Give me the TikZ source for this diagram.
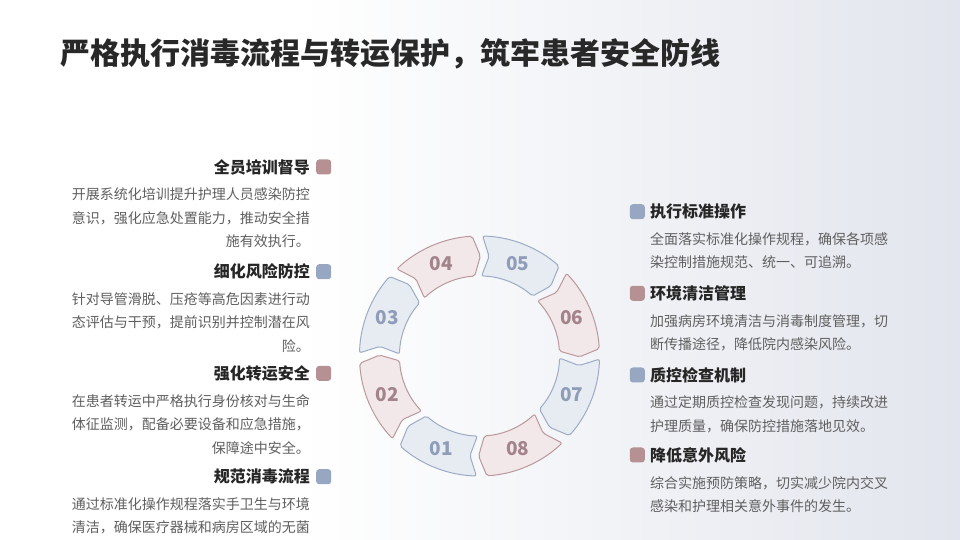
\documentclass[tikz,border=0pt]{standalone}
\usepackage{fontspec}
\setmainfont{Noto Sans CJK SC}
\definecolor{titlegray}{RGB}{40, 40, 40}
\definecolor{headgray}{RGB}{38, 38, 38}
\definecolor{bodygray}{RGB}{95, 95, 95}
\definecolor{bgtint}{RGB}{226, 229, 237}
\definecolor{rosefill}{RGB}{242, 231, 233}
\definecolor{roseline}{RGB}{185, 153, 156}
\definecolor{rosetext}{RGB}{163, 132, 138}
\definecolor{rosemark}{RGB}{181, 145, 147}
\definecolor{bluefill}{RGB}{231, 236, 243}
\definecolor{blueline}{RGB}{158, 171, 196}
\definecolor{bluetext}{RGB}{143, 157, 184}
\definecolor{bluemark}{RGB}{152, 167, 193}
\usetikzlibrary{positioning}

\begin{document}
\begin{tikzpicture}[
  x=1pt, y=1pt,
  title/.style={anchor=west, inner sep=0pt, text=titlegray,
                font=\fontsize{30}{36}\selectfont\bfseries},
  head/.style={inner sep=0pt, text=headgray, font=\fontsize{16}{20}\selectfont\bfseries},
  body/.style={inner sep=0pt, text=bodygray, font=\fontsize{14}{23.3}\selectfont},
  sqmark/.style={rectangle, rounded corners=3pt, minimum size=15pt, inner sep=0pt},
  num/.style={inner sep=0pt, font=\fontsize{19}{21}\selectfont\bfseries},
  segrose/.style={draw=roseline, fill=rosefill, line width=1pt, rounded corners=2pt},
  segblue/.style={draw=blueline, fill=bluefill, line width=1pt, rounded corners=2pt}
]
  % background
  \useasboundingbox (0,0) rectangle (960,540);
  \fill[white] (0,0) rectangle (960,540);
  \shade[left color=white, right color=bgtint] (300,0) rectangle (960,540);

  \node[title] (title) at (60,486) {严格执行消毒流程与转运保护，筑牢患者安全防线};

  % ring of eight steps
  \begin{scope}[shift={(479.5,184)}]
    \foreach \i/\c in {1/blue, 2/rose, 3/blue, 4/rose, 5/blue, 6/rose, 7/blue, 8/rose} {
      \pgfmathsetmacro{\a}{-112.5-45*(\i-1)}
      \draw[seg\c] (\a+21:120) arc[start angle=\a+21, end angle=\a-19, radius=120]
        -- (\a-23:100) -- (\a-19:80) arc[start angle=\a-19, end angle=\a+21, radius=80]
        -- (\a+17:100) -- cycle;
      \node[num, text=\c text] (n\i) at (\a:100) {0\i};
    }
  \end{scope}

  % left column
  \node[head, anchor=east] (lh1) at (310,373) {全员培训督导};
  \node[sqmark, fill=rosemark, right=6pt of lh1] (lm1) {};
  \node[body, align=right, below=13pt of lh1.south east, anchor=north east] (lb1)
    {开展系统化培训提升护理人员感染防控\\意识，强化应急处置能力，推动安全措\\施有效执行。};

  \node[head, anchor=east] (lh2) at (310,268.3) {细化风险防控};
  \node[sqmark, fill=bluemark, right=6pt of lh2] (lm2) {};
  \node[body, align=right, below=13pt of lh2.south east, anchor=north east] (lb2)
    {针对导管滑脱、压疮等高危因素进行动\\态评估与干预，提前识别并控制潜在风\\险。};

  \node[head, anchor=east] (lh3) at (310,166.7) {强化转运安全};
  \node[sqmark, fill=rosemark, right=6pt of lh3] (lm3) {};
  \node[body, align=right, below=13pt of lh3.south east, anchor=north east] (lb3)
    {在患者转运中严格执行身份核对与生命\\体征监测，配备必要设备和应急措施，\\保障途中安全。};

  \node[head, anchor=east] (lh4) at (310,63.3) {规范消毒流程};
  \node[sqmark, fill=bluemark, right=6pt of lh4] (lm4) {};
  \node[body, align=right, below=13pt of lh4.south east, anchor=north east] (lb4)
    {通过标准化操作规程落实手卫生与环境\\清洁，确保医疗器械和病房区域的无菌};

  % right column
  \node[head, anchor=west] (rh1) at (650,328.3) {执行标准操作};
  \node[sqmark, fill=bluemark, left=5pt of rh1] (rm1) {};
  \node[body, align=left, below=13pt of rh1.south west, anchor=north west] (rb1)
    {全面落实标准化操作规程，确保各项感\\染控制措施规范、统一、可追溯。};

  \node[head, anchor=west] (rh2) at (650,246.7) {环境清洁管理};
  \node[sqmark, fill=rosemark, left=5pt of rh2] (rm2) {};
  \node[body, align=left, below=13pt of rh2.south west, anchor=north west] (rb2)
    {加强病房环境清洁与消毒制度管理，切\\断传播途径，降低院内感染风险。};

  \node[head, anchor=west] (rh3) at (650,165) {质控检查机制};
  \node[sqmark, fill=bluemark, left=5pt of rh3] (rm3) {};
  \node[body, align=left, below=13pt of rh3.south west, anchor=north west] (rb3)
    {通过定期质控检查发现问题，持续改进\\护理质量，确保防控措施落地见效。};

  \node[head, anchor=west] (rh4) at (650,85) {降低意外风险};
  \node[sqmark, fill=rosemark, left=5pt of rh4] (rm4) {};
  \node[body, align=left, below=13pt of rh4.south west, anchor=north west] (rb4)
    {综合实施预防策略，切实减少院内交叉\\感染和护理相关意外事件的发生。};
\end{tikzpicture}
\end{document}
